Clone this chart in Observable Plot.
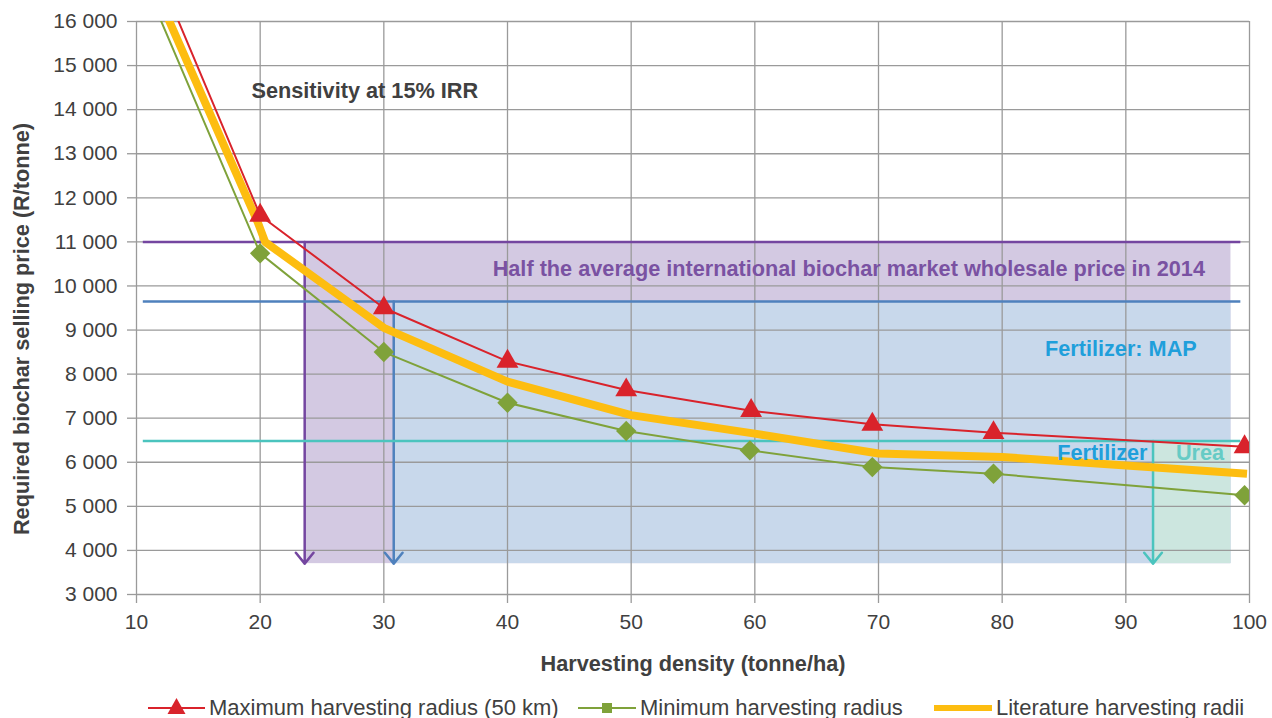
<!DOCTYPE html>
<html><head><meta charset="utf-8">
<script src="https://cdn.jsdelivr.net/npm/d3@7"></script>
<script src="https://cdn.jsdelivr.net/npm/@observablehq/plot@0.6"></script>
<style>
html,body{margin:0;padding:0;overflow:hidden;background:#fff;}
#wrap{position:relative;width:1272px;height:718px;overflow:hidden;font-family:"Liberation Sans",Arial,sans-serif;}
#wrap svg.plot{display:block;}
.item{position:absolute;top:697px;display:flex;align-items:center;font-size:22px;line-height:22px;color:#404040;white-space:nowrap;}
.item svg{margin-right:4px;}
</style></head><body><div id="wrap"></div>
<script>
// ---- data ----
const seriesNames = ["Maximum harvesting radius (50 km)", "Minimum harvesting radius", "Literature harvesting radii"];
const xMax = [10, 20, 30, 40, 49.6, 59.7, 69.5, 79.3, 99.6];
const yMax = [18270, 11600, 9500, 8290, 7640, 7170, 6860, 6670, 6350];
const xMin = [10, 20, 30, 40, 49.6, 59.6, 69.5, 79.3, 99.6];
const yMin = [17320, 10740, 8500, 7350, 6710, 6270, 5890, 5740, 5250];
const xLit = [10, 19.8, 20.4, 30, 40, 50, 60, 70, 80, 99.8];
const yLit = [17700, 11450, 11000, 9050, 7830, 7070, 6650, 6200, 6120, 5740];

// reference prices (R/tonne) and the densities where they are reached
const refNames = ["Half the average international biochar market wholesale price in 2014", "Fertilizer: MAP", "Fertilizer Urea"];
const refPrice = [11000, 9650, 6480];
const refDensity = [23.6, 30.8, 92.2];
const refLineStart = 10.55, refLineEnd = 99.3, bandRight = 98.5, bandBottom = 3700;

// annotation labels
const noteText = ["Sensitivity at 15% IRR", "Half the average international biochar market wholesale price in 2014", "Fertilizer: MAP", "Fertilizer", "Urea"];
const noteX = [19.3, 67.6, 89.6, 88.1, 96.0];
const noteY = [14420, 10380, 8580, 6200, 6200];

const xTicks = [10, 20, 30, 40, 50, 60, 70, 80, 90, 100];
const yTicks = [3000, 4000, 5000, 6000, 7000, 8000, 9000, 10000, 11000, 12000, 13000, 14000, 15000, 16000];
const xTitle = "Harvesting density (tonne/ha)";
const yTitle = "Required biochar selling price (R/tonne)";

// ---- build ----
const toRows = (xs, ys) => xs.map((x, i) => ({x, y: ys[i]}));
const maxRows = toRows(xMax, yMax);
const minRows = toRows(xMin, yMin);
const litRows = toRows(xLit, yLit);
const fmt = d => d3.format(",")(d).replace(/,/g, " ");

const refColors = ["#7446a0", "#4f81bd", "#4bc4be"];
const bandColors = ["#d3c9e2", "#c8d8eb", "#cce6df"];
const noteColors = ["#404040", "#7a52a2", "#1f9fdb", "#1f9fdb", "#66cbc5"];
const noteAnchor = ["start", "middle", "middle", "middle", "middle"];
const bold = {fontWeight: "bold", fontSize: 21.7};

const marks = [];
refPrice.forEach((p, i) => {
  marks.push(Plot.rect([{x1: refDensity[i], x2: bandRight, y1: bandBottom, y2: p}],
    {x1: "x1", x2: "x2", y1: "y1", y2: "y2", fill: bandColors[i]}));
});
marks.push(
  Plot.gridX(xTicks, {stroke: "#9a9a9a", strokeOpacity: 1, strokeWidth: 1.3}),
  Plot.gridY(yTicks, {stroke: "#9a9a9a", strokeOpacity: 1, strokeWidth: 1.3}),
  Plot.axisX(xTicks, {tickSize: 9, tickPadding: 11, stroke: "#9a9a9a", strokeWidth: 1.3, fill: "#404040", fontSize: 21, label: null}),
  Plot.axisY(yTicks, {tickSize: 9, tickPadding: 10, stroke: "#9a9a9a", strokeWidth: 1.3, fill: "#404040", fontSize: 21, tickFormat: fmt, label: null})
);
refPrice.forEach((p, i) => {
  marks.push(
    Plot.ruleY([p], {x1: refLineStart, x2: refLineEnd, stroke: refColors[i], strokeWidth: 2.5}),
    Plot.arrow([p], {x1: refDensity[i], x2: refDensity[i], y1: d => d, y2: bandBottom, stroke: refColors[i], strokeWidth: 2.5, headLength: 8.4, headAngle: 78})
  );
});
marks.push(
  Plot.line(litRows, {x: "x", y: "y", stroke: "#fdbd10", strokeWidth: 8, strokeLinecap: "butt", strokeLinejoin: "round", clip: true}),
  Plot.line(minRows, {x: "x", y: "y", stroke: "#7fa23a", strokeWidth: 2, clip: true}),
  Plot.dot(minRows, {x: "x", y: "y", symbol: "diamond2", r: 9.2, fill: "#7fa23a", clip: true}),
  Plot.line(maxRows, {x: "x", y: "y", stroke: "#d9232b", strokeWidth: 2, clip: true}),
  Plot.dot(maxRows, {x: "x", y: "y", symbol: "triangle", r: 8.1, fill: "#d9232b", clip: true})
);
noteText.forEach((t, i) => {
  marks.push(Plot.text([t], {x: noteX[i], y: noteY[i], text: d => d, fill: noteColors[i], textAnchor: noteAnchor[i], ...bold}));
});
marks.push(
  Plot.text([xTitle], {frameAnchor: "bottom", lineAnchor: "middle", textAnchor: "middle", dy: 70, fill: "#404040", ...bold}),
  Plot.text([yTitle], {frameAnchor: "left", lineAnchor: "middle", textAnchor: "middle", rotate: -90, dx: -114, dy: 21, fill: "#404040", ...bold})
);

const chart = Plot.plot({
  width: 1272, height: 690,
  marginLeft: 136, marginRight: 23, marginTop: 21, marginBottom: 96,
  style: {fontFamily: "'Liberation Sans', Arial, sans-serif", fontSize: "21px", color: "#404040", background: "white", overflow: "visible"},
  x: {domain: [10, 100], label: null},
  y: {domain: [3000, 16000], label: null},
  marks
});
const wrap = document.getElementById("wrap");
wrap.appendChild(chart);

// legend (HTML, below the svg)
const legendLeft = [148, 578, 934];
const legendSym = [
  `<svg width="57" height="22"><line x1="0" x2="57" y1="11" y2="11" stroke="#d9232b" stroke-width="2"/><path d="M28.5,1 L37.5,17 L19.5,17 Z" fill="#d9232b"/></svg>`,
  `<svg width="58" height="22"><line x1="0" x2="58" y1="11" y2="11" stroke="#7fa23a" stroke-width="2"/><rect x="24" y="6" width="10" height="10" fill="#7fa23a"/></svg>`,
  `<svg width="58" height="22"><line x1="0" x2="58" y1="11" y2="11" stroke="#fdbd10" stroke-width="6"/></svg>`
];
seriesNames.forEach((n, i) => {
  const d = document.createElement("div");
  d.className = "item";
  d.style.left = legendLeft[i] + "px";
  d.innerHTML = legendSym[i] + `<span>${n}</span>`;
  wrap.appendChild(d);
});
</script></body></html>
